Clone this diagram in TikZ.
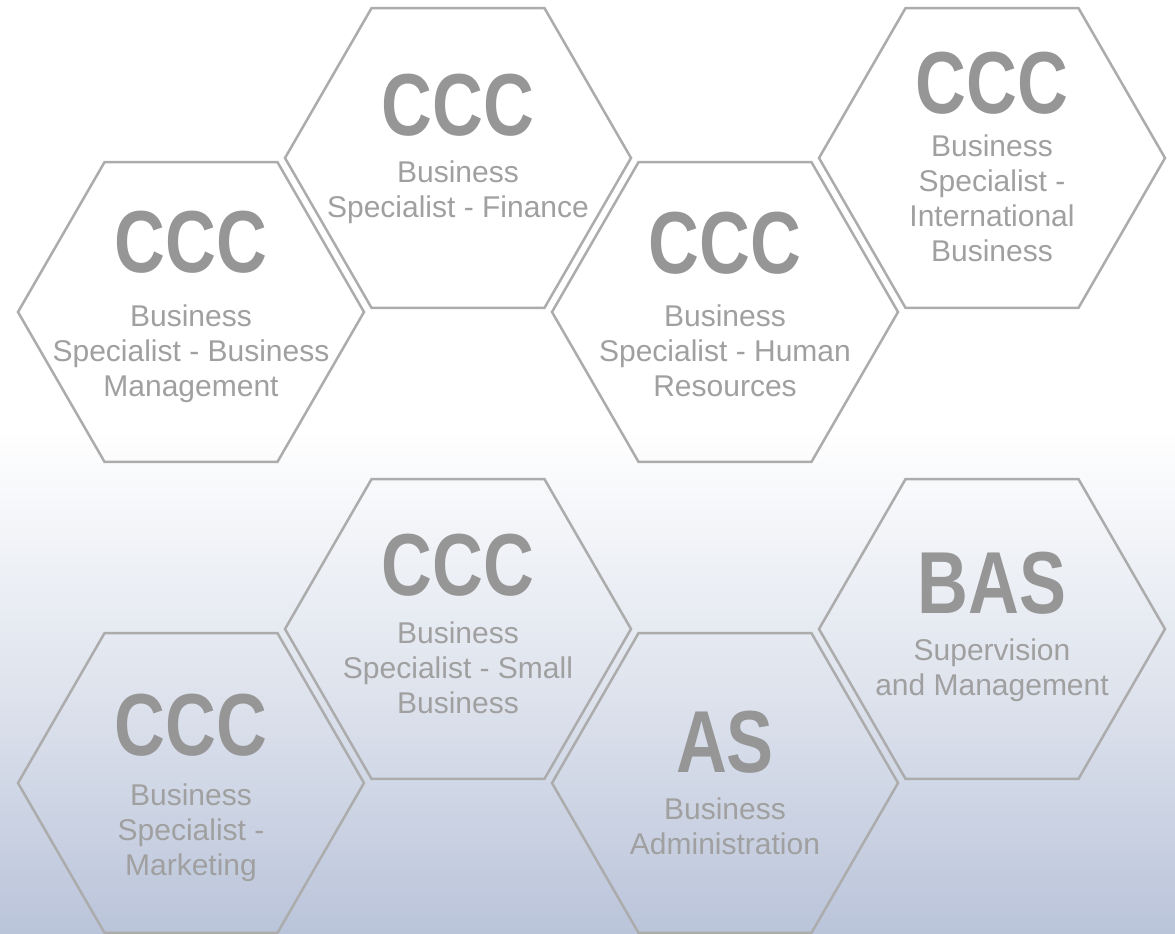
\documentclass[tikz,border=0pt]{standalone}
\usepackage{fontspec}
\setmainfont{Liberation Sans}
\newfontfamily\ttlfont[FakeStretch=0.8]{Liberation Sans}
\usetikzlibrary{positioning, shapes.geometric}
\definecolor{hexgray}{RGB}{172,172,172}
\definecolor{ttlgray}{RGB}{150,150,150}
\definecolor{subgray}{RGB}{160,160,160}
\definecolor{bgblue}{RGB}{186,196,218}
\definecolor{bgmid}{RGB}{222,227,237}
\pgfdeclareverticalshading{bgfade}{100bp}{color(0bp)=(bgblue);
  color(25bp)=(bgblue); color(38bp)=(bgmid); color(52bp)=(white);
  color(100bp)=(white)}

\begin{document}
\begin{tikzpicture}[x=1pt,y=-1pt,on grid,
  hexa/.style={regular polygon,regular polygon sides=6,minimum size=346pt,
    inner sep=0pt,draw=hexgray,line width=2.5pt},
  ttl/.style={inner sep=0pt,text=ttlgray,
    font=\ttlfont\bfseries\fontsize{88}{88}\selectfont},
  sub/.style={inner sep=0pt,align=center,text=subgray,
    font=\fontsize{30}{35}\selectfont}]
\useasboundingbox (0,0) rectangle (1175,934);
\shade[shading=bgfade] (0,0) rectangle (1175,934);

% honeycomb
\node[hexa] (h1) at (191,312) {};
\node[hexa] (h2) [above right=154pt and 267pt of h1] {};
\node[hexa] (h3) [below right=154pt and 267pt of h2] {};
\node[hexa] (h4) [above right=154pt and 267pt of h3] {};
\node[hexa] (h6) [below=471pt of h1] {};
\node[hexa] (h5) [above right=154pt and 267pt of h6] {};
\node[hexa] (h7) [below right=154pt and 267pt of h5] {};
\node[hexa] (h8) [above right=154pt and 267pt of h7] {};

% titles
\node[ttl] (t1) [above=70pt of h1] {CCC};
\node[ttl] (t2) [above=53pt of h2] {CCC};
\node[ttl] (t3) [above=69pt of h3] {CCC};
\node[ttl] (t4) [above=75pt of h4] {CCC};
\node[ttl] (t5) [above=64pt of h5] {CCC};
\node[ttl] (t6) [above=58pt of h6] {CCC};
\node[ttl] (t7) [above=41pt of h7] {AS};
\node[ttl] (t8) [above=46pt of h8] {BAS};

% programs
\node[sub] (s1) [below=63pt of t1,anchor=north] {Business\\Specialist - Business\\Management};
\node[sub] (s2) [below=56pt of t2,anchor=north] {Business\\Specialist - Finance};
\node[sub] (s3) [below=62pt of t3,anchor=north] {Business\\Specialist - Human\\Resources};
\node[sub] (s4) [below=52pt of t4,anchor=north] {Business\\Specialist -\\International\\Business};
\node[sub] (s5) [below=57pt of t5,anchor=north] {Business\\Specialist - Small\\Business};
\node[sub] (s6) [below=59pt of t6,anchor=north] {Business\\Specialist -\\Marketing};
\node[sub] (s7) [below=56pt of t7,anchor=north] {Business\\Administration};
\node[sub] (s8) [below=56pt of t8,anchor=north] {Supervision\\and Management};
\end{tikzpicture}
\end{document}
